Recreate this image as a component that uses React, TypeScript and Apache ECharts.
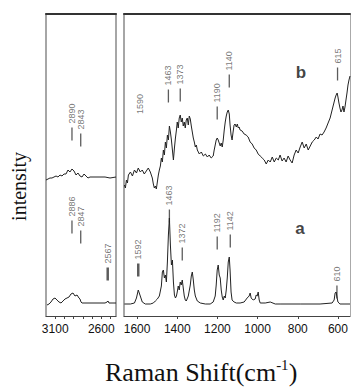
import React, { useEffect, useRef } from "react";
import * as echarts from "echarts";

// ---- Data (wavenumber cm^-1, relative intensity) ----
const spectrumB_high: [number, number][] = [
  [3200, 136], [3178, 137], [3157, 138], [3135, 138], [3113, 139], [3091, 140], [3070, 139],
  [3048, 141], [3026, 140], [3005, 142], [2983, 142], [2961, 146], [2940, 144], [2918, 147],
  [2896, 145], [2874, 141], [2853, 143], [2831, 140], [2809, 139], [2787, 142], [2766, 140],
  [2744, 138], [2722, 139], [2668, 139], [2614, 139], [2559, 139], [2505, 138], [2440, 139],
];
const spectrumA_high: [number, number][] = [
  [3189, 11], [3167, 12], [3146, 14], [3124, 17], [3102, 18], [3081, 16], [3059, 14], [3037, 13],
  [3015, 15], [2994, 17], [2972, 18], [2950, 19], [2929, 22], [2907, 23], [2885, 20], [2863, 21],
  [2842, 18], [2831, 17], [2820, 14], [2809, 13], [2777, 13], [2722, 13], [2668, 13], [2614, 13],
  [2559, 13], [2537, 14], [2527, 15], [2516, 13], [2483, 13], [2440, 13],
];
const spectrumB_low: [number, number][] = [
  [1663, 131], [1658, 128], [1653, 136], [1648, 133], [1643, 141], [1633, 144], [1623, 140],
  [1613, 146], [1603, 143], [1594, 148], [1584, 144], [1574, 146], [1564, 142], [1554, 145],
  [1544, 148], [1534, 144], [1524, 138], [1519, 132], [1514, 128], [1509, 130], [1504, 127],
  [1499, 134], [1494, 141], [1489, 146], [1484, 150], [1479, 158], [1474, 154], [1469, 166],
  [1464, 161], [1459, 174], [1454, 168], [1449, 181], [1444, 176], [1439, 190], [1434, 184],
  [1429, 176], [1424, 166], [1419, 156], [1414, 168], [1409, 178], [1404, 186], [1400, 194],
  [1395, 188], [1390, 198], [1385, 201], [1380, 194], [1375, 198], [1370, 190], [1365, 194],
  [1360, 188], [1355, 196], [1350, 198], [1345, 191], [1340, 200], [1335, 197], [1330, 190],
  [1325, 184], [1320, 178], [1315, 174], [1310, 169], [1305, 171], [1300, 166], [1290, 162],
  [1280, 164], [1270, 160], [1260, 162], [1250, 159], [1241, 161], [1231, 158], [1221, 160],
  [1216, 166], [1211, 171], [1206, 176], [1201, 178], [1196, 176], [1191, 173], [1186, 170],
  [1181, 173], [1176, 169], [1171, 176], [1166, 186], [1161, 194], [1156, 200], [1151, 204],
  [1146, 206], [1141, 202], [1137, 191], [1132, 181], [1127, 176], [1122, 184], [1117, 191],
  [1112, 192], [1106, 189], [1101, 192], [1096, 188], [1092, 189], [1087, 186], [1077, 185],
  [1067, 182], [1057, 181], [1047, 179], [1037, 174], [1027, 172], [1017, 168], [1007, 166],
  [997, 162], [987, 160], [977, 158], [967, 156], [957, 152], [947, 156], [937, 154], [927, 159],
  [917, 154], [907, 158], [897, 156], [888, 161], [878, 155], [868, 158], [858, 154], [848, 160],
  [838, 156], [828, 153], [818, 161], [808, 166], [798, 163], [788, 169], [778, 174], [768, 168],
  [758, 172], [748, 166], [738, 170], [728, 174], [718, 176], [708, 179], [699, 177], [689, 182],
  [679, 181], [669, 184], [659, 188], [649, 193], [639, 198], [629, 206], [619, 214], [614, 218],
  [609, 221], [604, 223], [600, 219], [595, 213], [590, 208], [585, 204], [580, 206], [575, 210],
  [570, 204], [565, 209], [560, 216], [555, 223], [550, 231], [545, 236], [540, 240],
];
const spectrumA_low: [number, number][] = [
  [1663, 12], [1633, 12], [1613, 13], [1603, 18], [1594, 26], [1584, 20], [1574, 14], [1559, 12],
  [1534, 12], [1519, 13], [1509, 15], [1499, 17], [1489, 20], [1479, 30], [1474, 44], [1469, 46],
  [1464, 38], [1459, 41], [1454, 34], [1449, 54], [1444, 81], [1439, 98], [1434, 71], [1429, 51],
  [1424, 56], [1419, 34], [1414, 21], [1409, 18], [1404, 20], [1400, 24], [1395, 30], [1390, 26],
  [1385, 34], [1380, 31], [1375, 36], [1370, 28], [1365, 20], [1360, 16], [1355, 15], [1345, 20],
  [1335, 31], [1330, 40], [1325, 44], [1320, 36], [1315, 26], [1310, 20], [1300, 15], [1285, 13],
  [1260, 12], [1236, 12], [1221, 14], [1211, 20], [1206, 31], [1201, 46], [1196, 51], [1191, 41],
  [1186, 38], [1181, 26], [1176, 19], [1171, 16], [1166, 20], [1161, 18], [1156, 26], [1151, 38],
  [1146, 54], [1141, 59], [1137, 46], [1132, 24], [1127, 16], [1117, 14], [1106, 13], [1087, 13],
  [1067, 14], [1052, 18], [1042, 20], [1037, 23], [1032, 18], [1022, 16], [1012, 17], [1007, 21],
  [1002, 20], [997, 24], [992, 16], [987, 13], [962, 13], [937, 14], [912, 12], [888, 12],
  [788, 12], [689, 12], [629, 13], [619, 16], [614, 23], [609, 24], [604, 18], [600, 14],
  [590, 12], [565, 12], [540, 12],
];

// peak markers: [shift, level, label]
const peaksHigh: [number, number, string][] = [
  [2918, 182, "2890"], [2823, 176, "2843"],
  [2918, 89, "2886"], [2823, 79, "2847"], [2530, 42, "2567"],
];
const peaksLow: [number, number, string][] = [
  [1444, 220, "1463"], [1385, 221, "1373"], [1201, 203, "1190"], [1141, 235, "1140"], [602, 242, "615"],
  [1594, 46, "1592"], [1439, 100, "1463"], [1375, 62, "1372"], [1201, 73, "1192"], [1136, 75, "1142"], [605, 24, "610"],
];
const peakTextOnly: [number, number, string][] = [[1583, 198, "1590"]];
const thickPeaks = ["1592", "2567"];
const curveTags: [number, number, string][] = [[784, 244, "b"], [789, 88, "a"]];

const ticksHigh = [3100, 3000, 2900, 2800, 2700, 2600, 2500];
const labelsHigh = [3100, 2600];
const ticksLow = [1600, 1400, 1200, 1000, 800, 600];

const SANS = "Liberation Sans, Arial, sans-serif";
const SERIF = "Liberation Serif, Times New Roman, serif";

export default function App() {
  const ref = useRef<HTMLDivElement>(null);
  useEffect(() => {
    if (!ref.current) return;
    const chart = echarts.init(ref.current, undefined, { renderer: "svg" });
    const grids = [
      { left: 46, top: 14, width: 70, height: 302 },
      { left: 124, top: 14, width: 226, height: 302 },
    ];
    const ranges = [
      { min: 2440, max: 3200 },
      { min: 540, max: 1665 },
    ];
    const bottomAxis = (i: number, ticks: number[], labels: number[]) => ({
      type: "value", gridIndex: i, inverse: true, position: "bottom", ...ranges[i],
      axisLine: { show: true, onZero: false, lineStyle: { color: "#444", width: 1 } },
      axisTick: { show: true, customValues: ticks, length: 3, lineStyle: { color: "#444" } },
      axisLabel: {
        show: true, customValues: labels, fontSize: 12, color: "#111", fontFamily: SANS, margin: 7,
        formatter: (v: number) => String(v),
      },
      splitLine: { show: false },
    });
    const topAxis = (i: number) => ({
      type: "value", gridIndex: i, inverse: true, position: "top", ...ranges[i],
      axisLine: { show: true, onZero: false, lineStyle: { color: "#333", width: 2 } },
      axisTick: { show: false }, axisLabel: { show: false }, splitLine: { show: false },
    });
    const yAx = (i: number, pos: string, color: string, width: number) => ({
      type: "value", gridIndex: i, min: 0, max: 302, position: pos,
      axisLine: { show: true, onZero: false, lineStyle: { color, width } },
      axisTick: { show: false }, axisLabel: { show: false }, splitLine: { show: false },
    });
    const lineSeries = (i: number, data: [number, number][]) => ({
      type: "line", xAxisIndex: i, yAxisIndex: i, data, showSymbol: false, symbol: "none",
      lineStyle: { color: "#222", width: 1 }, silent: true,
    });
    const peakSeries = (i: number, data: [number, number, string][], bar: boolean) => ({
      type: "scatter", xAxisIndex: i, yAxisIndex: i,
      data: data.map((d) => ({
        value: [d[0], d[1]], name: d[2],
        symbolSize: bar ? [thickPeaks.includes(d[2]) ? 2.5 : 1.3, 13] : [1, 0],
      })),
      symbol: "rect",
      itemStyle: { color: bar ? "#333" : "rgba(0,0,0,0)" },
      label: {
        show: true, formatter: "{b}", position: "top", distance: 4, rotate: 90,
        align: "left", verticalAlign: "middle", fontSize: 9, color: "#555", fontFamily: SANS,
      },
      silent: true,
    });
    chart.setOption({
      animation: false,
      grid: grids,
      title: {
        text: "{m|Raman Shift(cm}{s|-1}{m|)}",
        left: 100, top: 352,
        textStyle: {
          fontWeight: "normal",
          rich: {
            m: { fontFamily: SERIF, fontSize: 26, fontWeight: "normal", color: "#111", lineHeight: 30 },
            s: { fontFamily: SERIF, fontSize: 15, fontWeight: "normal", color: "#111", lineHeight: 30, verticalAlign: "top" },
          },
        },
      },
      xAxis: [bottomAxis(0, ticksHigh, labelsHigh), bottomAxis(1, ticksLow, ticksLow), topAxis(0), topAxis(1)],
      yAxis: [yAx(0, "left", "#888", 1.5), yAx(1, "left", "#888", 1.5), yAx(0, "right", "#888", 1.5), yAx(1, "right", "#aaa", 1)],
      series: [
        lineSeries(0, spectrumB_high), lineSeries(0, spectrumA_high),
        lineSeries(1, spectrumB_low), lineSeries(1, spectrumA_low),
        peakSeries(0, peaksHigh, true), peakSeries(1, peaksLow, true), peakSeries(1, peakTextOnly, false),
        {
          type: "scatter", xAxisIndex: 1, yAxisIndex: 1, symbolSize: 0,
          data: curveTags.map((d) => ({ value: [d[0], d[1]], name: d[2] })),
          label: { show: true, formatter: "{b}", position: "inside", fontSize: 17, fontWeight: "bold", color: "#111", fontFamily: SANS },
          silent: true,
        },
      ],
      graphic: [
        {
          type: "text", left: 9, top: 152, rotation: Math.PI / 2,
          style: { text: "intensity", fontFamily: SERIF, fontSize: 20, fill: "#111" },
        },
      ],
    });
    return () => chart.dispose();
  }, []);
  return <div ref={ref} style={{ position: "fixed", left: 0, top: 0, width: 353, height: 387, background: "#fff" }} />;
}
